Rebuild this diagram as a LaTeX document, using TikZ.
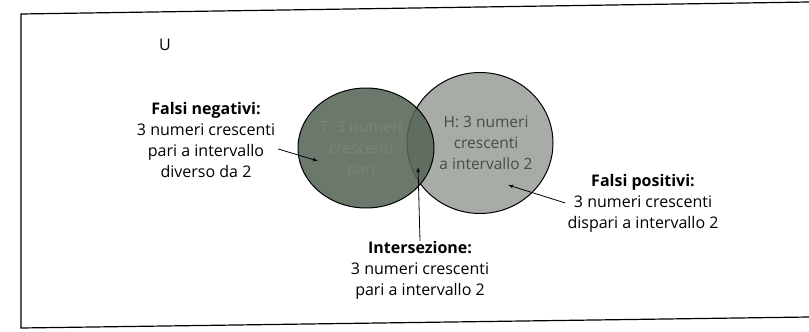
\documentclass[tikz,border=0pt]{standalone}
\usepackage{fontspec}
\setmainfont{Open Sans}
\usepackage{tikz}
\usetikzlibrary{shapes,arrows}
\usetikzlibrary{positioning}
\definecolor{setT}{RGB}{86,102,88}
\definecolor{setTtext}{RGB}{118,134,120}
\definecolor{setH}{RGB}{168,172,166}
\definecolor{setHtext}{RGB}{72,76,72}
\tikzstyle{line} = [draw, 
-latex', 
line width=0.8pt]
\tikzstyle{set} = [ellipse, draw=black, line width=1pt, inner sep=0pt]
\tikzstyle{settext} = [align=center, inner sep=0pt, font=\fontsize{15.5}{21}\selectfont]
\tikzstyle{caption} = [align=center, inner sep=0pt, font=\fontsize{16}{21}\selectfont]

\begin{document}
\begin{tikzpicture}[x=1pt, y=-1pt]
    \useasboundingbox (0,0) rectangle (809,332);
    %% Frame
    \draw [line width=1.2pt] (809,2) -- (21,14) -- (21,328) -- (809,317);
    \node [caption] (U) at (165,45) {U};
    %% Sets
    \node [set, fill=setH, minimum width=146pt, minimum height=141pt] (H) at (480,143) {};
    \node [settext, text=setHtext, xshift=6pt] (Htext) at (H.center) {H: 3 numeri\\crescenti\\a intervallo 2};
    \node [set, fill=setT, fill opacity=0.88, minimum width=136pt, minimum height=120pt] (T) at (366,148) {};
    \node [settext, text=setTtext, xshift=-5pt, yshift=-2pt] (Ttext) at (T.center) {T: 3 numeri\\crescenti\\pari};
    %% Labels
    \node [caption] (FN) at (206,140) {\textbf{Falsi negativi:}\\3 numeri crescenti\\pari a intervallo\\diverso da 2};
    \node [caption] (IN) at (420,270) {\textbf{Intersezione:}\\3 numeri crescenti\\pari a intervallo 2};
    \node [caption] (FP) at (643,203) {\textbf{Falsi positivi:}\\3 numeri crescenti\\dispari a intervallo 2};
    \coordinate (fnTip) at (318,161);
    \coordinate (inTip) at (418,167);
    \coordinate (fpTip) at (508,185);
    %% Pointers
    \path [line] ([shift={(3,9)}]FN.east) -- (fnTip);
    \path [line] (IN.north) -- (inTip);
    \path [line] ([xshift=-2pt]FP.west) -- (fpTip);
\end{tikzpicture}
\end{document}
